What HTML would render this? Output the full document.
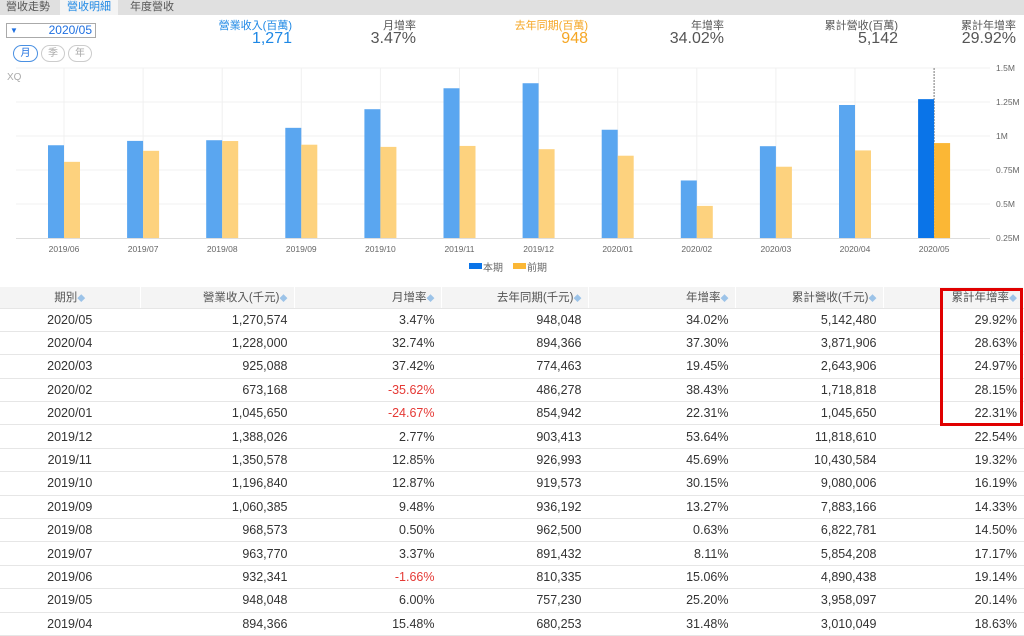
<!DOCTYPE html>
<html><head><meta charset="utf-8">
<style>
*{margin:0;padding:0;box-sizing:border-box}
body{width:1024px;height:634px;background:#fff;font-family:"Liberation Sans","Noto Sans CJK TC",sans-serif;position:relative;overflow:hidden;color:#444}
.tabs{position:absolute;left:0;top:0;width:1024px;height:15px;background:#e0e0e0;font-size:11px}
.tab{position:absolute;top:0;height:15px;line-height:14px;color:#555}
.abs{position:absolute}
table{position:absolute;left:0;top:287px;width:1024px;border-collapse:collapse;font-size:12.5px}
td,th{height:23.4px;border-bottom:1px solid #e6e6e6;border-right:1px solid #fff;padding:0 6px;text-align:right;font-weight:normal;color:#333}
th{background:#f4f4f4;color:#555;font-size:11.5px;height:21px}
td:first-child,th:first-child{text-align:center}
.neg{color:#e53935}
.s{color:#9cc3e8;font-size:8px}
</style></head><body>
<div class="tabs">
<div class="tab" style="left:6px">營收走勢</div>
<div class="tab" style="left:60px;width:58px;background:#f4f4f4;color:#1e88e5;text-align:center">營收明細</div>
<div class="tab" style="left:130px">年度營收</div>
</div>
<div class="abs" style="left:6px;top:23px;width:90px;height:15px;border:1px solid #aaa;font-size:12px;color:#1e6fe0;text-align:right;padding-right:3px;line-height:13px"><span style="position:absolute;left:3px;font-size:8px">▼</span>2020/05</div>
<div class="abs" style="left:13px;top:45px;width:25px;height:17px;border:1px solid #4a90e2;border-radius:9px;font-size:10px;color:#1e6fe0;text-align:center;line-height:15px">月</div>
<div class="abs" style="left:41px;top:45px;width:24px;height:17px;border:1px solid #ccc;border-radius:9px;font-size:10px;color:#aaa;text-align:center;line-height:15px">季</div>
<div class="abs" style="left:68px;top:45px;width:24px;height:17px;border:1px solid #ccc;border-radius:9px;font-size:10px;color:#aaa;text-align:center;line-height:15px">年</div>
<div class="abs" style="left:7px;top:72px;font-size:10px;color:#aaa">XQ</div>

<div class="abs" style="right:732px;top:17px;font-size:11px;color:#1e88e5">營業收入(百萬)</div>
<div class="abs" style="right:732px;top:30px;font-size:16px;color:#1e88e5">1,271</div>
<div class="abs" style="right:608px;top:17px;font-size:11px;color:#555">月增率</div>
<div class="abs" style="right:608px;top:30px;font-size:16px;color:#555">3.47%</div>
<div class="abs" style="right:436px;top:17px;font-size:11px;color:#f5a623">去年同期(百萬)</div>
<div class="abs" style="right:436px;top:30px;font-size:16px;color:#f5a623">948</div>
<div class="abs" style="right:300px;top:17px;font-size:11px;color:#555">年增率</div>
<div class="abs" style="right:300px;top:30px;font-size:16px;color:#555">34.02%</div>
<div class="abs" style="right:126px;top:17px;font-size:11px;color:#555">累計營收(百萬)</div>
<div class="abs" style="right:126px;top:30px;font-size:16px;color:#555">5,142</div>
<div class="abs" style="right:8px;top:17px;font-size:11px;color:#555">累計年增率</div>
<div class="abs" style="right:8px;top:30px;font-size:16px;color:#555">29.92%</div>

<svg class="abs" style="left:0;top:0" width="1024" height="285" id="ch" font-family="Liberation Sans" font-size="8.5" fill="#666"></svg>

<table id="t"></table>
<div class="abs" style="left:940px;top:288px;width:83px;height:138px;border:3px solid #e00000"></div>
<script>
var B=[0.932,0.964,0.969,1.060,1.197,1.351,1.388,1.046,0.673,0.925,1.228,1.271];
var O=[0.810,0.891,0.963,0.936,0.920,0.927,0.903,0.855,0.486,0.774,0.894,0.948];
var L=["2019/06","2019/07","2019/08","2019/09","2019/10","2019/11","2019/12","2020/01","2020/02","2020/03","2020/04","2020/05"];
var s='';
var Y=function(v){return 238-(v-0.25)*136};
[["1.5M",1.5],["1.25M",1.25],["1M",1],["0.75M",0.75],["0.5M",0.5],["0.25M",0.25]].forEach(function(a){var y=Y(a[1]);
 if(a[1]>0.25)s+='<line x1="16" x2="990" y1="'+y+'" y2="'+y+'" stroke="#f2f2f2"/>';
 s+='<text x="996" y="'+(y+3)+'">'+a[0]+'</text>';});
for(var i=0;i<12;i++){var c=64+i*79.1;
 s+='<line x1="'+c+'" x2="'+c+'" y1="68" y2="238" stroke="'+(i==11?'#777':'#f0f0f0')+'"'+(i==11?' stroke-dasharray="2,1"':'')+'/>';
 s+='<rect x="'+(c-16)+'" y="'+Y(B[i])+'" width="16" height="'+(238-Y(B[i]))+'" fill="'+(i==11?'#0a74e8':'#5aa6f0')+'"/>';
 s+='<rect x="'+c+'" y="'+Y(O[i])+'" width="16" height="'+(238-Y(O[i]))+'" fill="'+(i==11?'#fbb735':'#fdd27e')+'"/>';
 s+='<text x="'+c+'" y="252" text-anchor="middle">'+L[i]+'</text>';}
s+='<line x1="16" x2="990" y1="238.5" y2="238.5" stroke="#ddd"/>';
s+='<rect x="469" y="263" width="13" height="6" fill="#0a74e8"/><text x="483" y="271" font-size="10">本期</text>';
s+='<rect x="513" y="263" width="13" height="6" fill="#fbb735"/><text x="527" y="271" font-size="10">前期</text>';
document.getElementById('ch').innerHTML=s;
var R=[["2020/05","1,270,574","3.47%","948,048","34.02%","5,142,480","29.92%"],
["2020/04","1,228,000","32.74%","894,366","37.30%","3,871,906","28.63%"],
["2020/03","925,088","37.42%","774,463","19.45%","2,643,906","24.97%"],
["2020/02","673,168","-35.62%","486,278","38.43%","1,718,818","28.15%"],
["2020/01","1,045,650","-24.67%","854,942","22.31%","1,045,650","22.31%"],
["2019/12","1,388,026","2.77%","903,413","53.64%","11,818,610","22.54%"],
["2019/11","1,350,578","12.85%","926,993","45.69%","10,430,584","19.32%"],
["2019/10","1,196,840","12.87%","919,573","30.15%","9,080,006","16.19%"],
["2019/09","1,060,385","9.48%","936,192","13.27%","7,883,166","14.33%"],
["2019/08","968,573","0.50%","962,500","0.63%","6,822,781","14.50%"],
["2019/07","963,770","3.37%","891,432","8.11%","5,854,208","17.17%"],
["2019/06","932,341","-1.66%","810,335","15.06%","4,890,438","19.14%"],
["2019/05","948,048","6.00%","757,230","25.20%","3,958,097","20.14%"],
["2019/04","894,366","15.48%","680,253","31.48%","3,010,049","18.63%"]];
var h='<tr><th style="width:140px">期別<span class="s">◆</span></th><th style="width:154px">營業收入(千元)<span class="s">◆</span></th><th style="width:147px">月增率<span class="s">◆</span></th><th style="width:147px">去年同期(千元)<span class="s">◆</span></th><th style="width:147px">年增率<span class="s">◆</span></th><th style="width:148px">累計營收(千元)<span class="s">◆</span></th><th>累計年增率<span class="s">◆</span></th></tr>';
R.forEach(function(r){h+='<tr>'+r.map(function(v,j){return '<td'+(j==2&&v[0]=='-'?' class="neg"':'')+'>'+v+'</td>'}).join('')+'</tr>'});
document.getElementById('t').innerHTML=h;
</script>
</body></html>
